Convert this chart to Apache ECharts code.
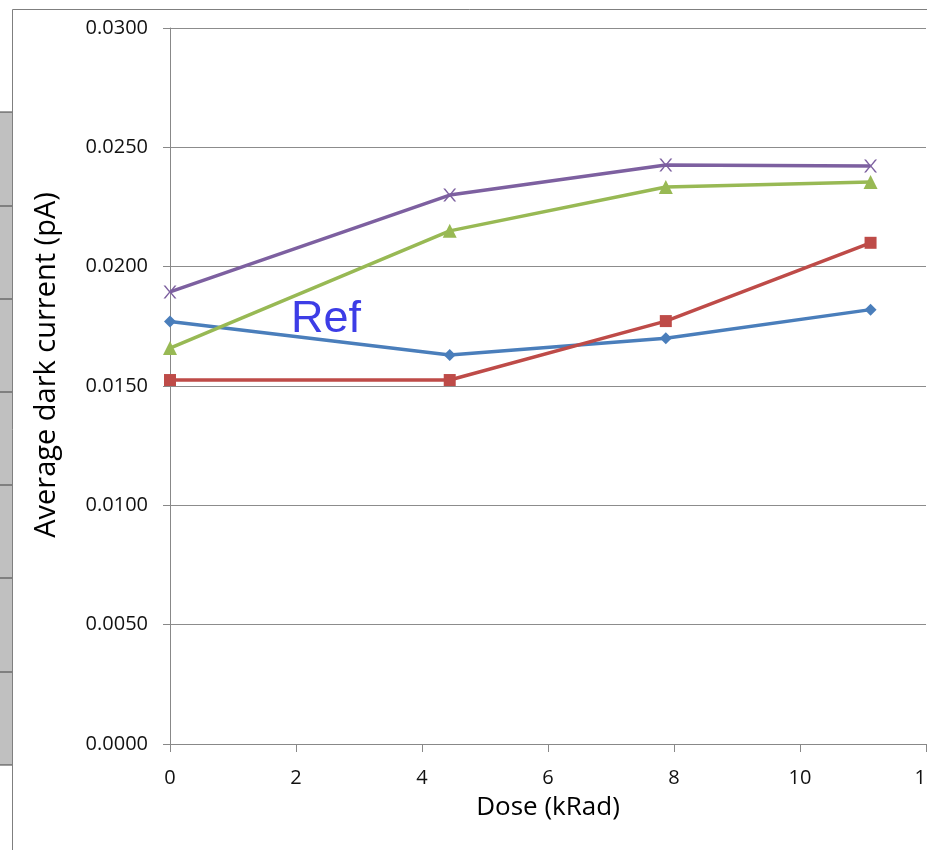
<!DOCTYPE html>
<html><head><meta charset="utf-8">
<script src="https://cdn.jsdelivr.net/npm/echarts@6/dist/echarts.min.js"></script>
<style>html,body{margin:0;padding:0;background:#fff}#c{width:927px;height:850px}</style>
</head><body><div id="c"></div>
<script>
const doses = [0, 4.44, 7.87, 11.12];
const seriesBlue = [0.0177, 0.0163, 0.0170, 0.0182];
const seriesRed = [0.01525, 0.01525, 0.01772, 0.0210];
const seriesGreen = [0.01659, 0.02150, 0.02334, 0.02355];
const seriesPurple = [0.01894, 0.02300, 0.02426, 0.02422];
const yTitle = 'Average dark current (pA)';
const xTitle = 'Dose (kRad)';
const annotation = 'Ref';

const chart = echarts.init(document.getElementById('c'));
const font = 'Open Sans, Noto Sans, sans-serif';
function mk(vals, color, symbol, size) {
  return {
    type: 'line', data: doses.map((d, i) => [d, vals[i]]),
    symbol: symbol, symbolSize: size, showSymbol: true,
    lineStyle: {color: color, width: 3.5}, itemStyle: {color: color},
    emphasis: {disabled: true}, z: 3
  };
}
const xPath = 'path://M0,0L1.5,0L5,3.5L8.5,0L10,0L5.8,4L10,8L8.5,8L5,4.5L1.5,8L0,8L4.2,4Z';
const hLines = [112, 206, 299, 392, 485, 578, 672, 765].map(y => ({
  type: 'line', shape: {x1: 0, y1: y, x2: 12, y2: y}, style: {stroke: '#404040', lineWidth: 1}
}));
chart.setOption({
  animation: false,
  backgroundColor: '#fff',
  grid: {left: 170, right: 1, top: 28, bottom: 106, containLabel: false, outerBoundsMode: 'none'},
  xAxis: {
    type: 'value', min: 0, max: 12, interval: 2,
    name: xTitle, nameLocation: 'middle', nameGap: 51,
    nameTextStyle: {fontFamily: font, fontSize: 26, color: '#000'},
    axisLine: {show: true, lineStyle: {color: '#888', width: 1}},
    axisTick: {show: true, length: 8, inside: false, lineStyle: {color: '#888'}},
    axisLabel: {fontFamily: font, fontSize: 20, color: '#111', margin: 24, showMaxLabel: true, hideOverlap: false},
    splitLine: {show: false}
  },
  yAxis: {
    type: 'value', min: 0, max: 0.03, interval: 0.005,
    axisLine: {show: true, lineStyle: {color: '#888', width: 1}},
    axisTick: {show: true, length: 7, lineStyle: {color: '#888'}},
    axisLabel: {fontFamily: font, fontSize: 20, color: '#111', margin: 22,
      formatter: v => v.toFixed(4)},
    splitLine: {show: true, lineStyle: {color: '#8c8c8c', width: 1}}
  },
  series: [
    mk(seriesBlue, '#4a7ebb', 'diamond', 12),
    mk(seriesRed, '#be4b48', 'rect', 12),
    mk(seriesGreen, '#98b954', 'triangle', 14),
    mk(seriesPurple, '#7d60a0', xPath, 13)
  ],
  graphic: [
    {type: 'rect', shape: {x: 0, y: 112, width: 12, height: 653}, style: {fill: '#c0c0c0'}},
    ...hLines,
    {type: 'line', shape: {x1: 12.5, y1: 9.5, x2: 927, y2: 9.5}, style: {stroke: '#7f7f7f', lineWidth: 1}},
    {type: 'line', shape: {x1: 12.5, y1: 9.5, x2: 12.5, y2: 850}, style: {stroke: '#7f7f7f', lineWidth: 1}},
    {type: 'text', x: 47, y: 365, rotation: Math.PI / 2,
      style: {text: yTitle, fontFamily: font, fontSize: 29, fill: '#000', align: 'center', verticalAlign: 'middle'}},
    {type: 'text', x: 326, y: 320, z: 10,
      style: {text: annotation, fontFamily: 'Liberation Sans, Arial, sans-serif', fontSize: 45, fill: '#3d3de6', align: 'center', verticalAlign: 'middle'}}
  ]
});
</script></body></html>
